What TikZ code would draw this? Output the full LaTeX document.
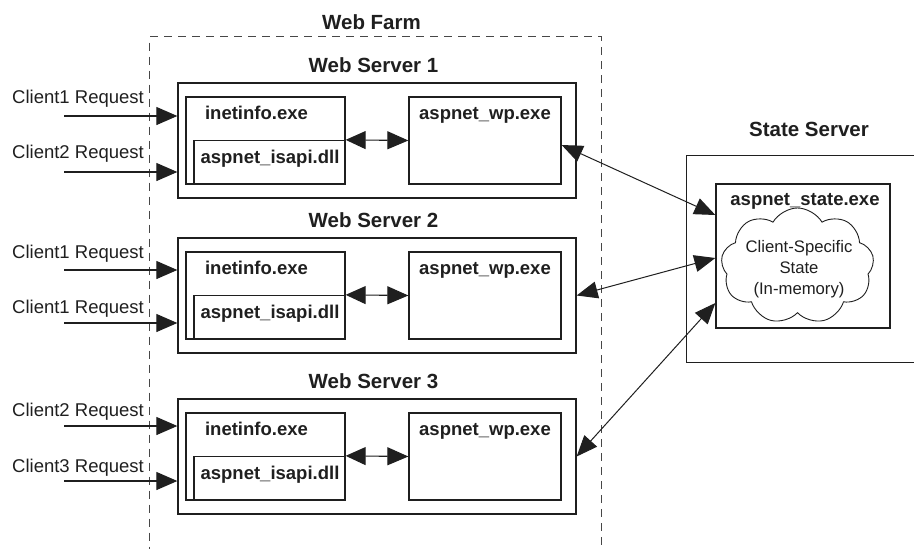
\documentclass[tikz,border=0pt]{standalone}
\usepackage{fontspec}
\setmainfont{Liberation Sans}
\usetikzlibrary{shapes.symbols,arrows.meta}
\begin{document}
\begin{tikzpicture}[x=1pt,y=-1pt,
  box/.style={draw=black!88, line width=1.3pt, rectangle, inner sep=0pt},
  title/.style={font=\bfseries\fontsize{20.5}{24}\selectfont, anchor=base, inner sep=0pt, text=black!88},
  lbl/.style={font=\bfseries\fontsize{18.5}{22}\selectfont, anchor=base, inner sep=0pt, text=black!88},
  req/.style={font=\fontsize{18.5}{22}\selectfont, anchor=base west, inner sep=0pt, text=black!88},
  arr/.style={draw=black!88, line width=1.1pt, -{Triangle[length=21pt,width=18pt]}},
  darr/.style={draw=black!88, line width=1.1pt, {Triangle[length=20pt,width=18pt]}-{Triangle[length=21pt,width=18pt]}},
  sarr/.style={draw=black!88, line width=1pt, {Triangle[length=21pt,width=17pt]}-{Triangle[length=21pt,width=17pt]}},
  farmstyle/.style={draw=black!72, line width=1.4pt, dash pattern=on 8pt off 6pt, rectangle, inner sep=0pt}
]
\useasboundingbox (0,0) rectangle (914,549);
\clip (0,0) rectangle (914,549);

% Web farm
\node[farmstyle, minimum width=452pt, minimum height=560pt, anchor=north west] (farm) at (149,36) {};
\node[title] (tfarm) at (371.5,29) {Web Farm};

\newcommand{\wsrv}[2]{%
  \node[box, minimum width=398pt, minimum height=115pt] (ws#1) at (377,{#2+57.5}) {};
  \node[box, minimum width=159pt, minimum height=87pt] (inet#1) at (265.5,{#2+57.5}) {};
  \node[box, minimum width=151pt, minimum height=43.5pt] (isapi#1) at (269.5,{#2+79.25}) {};
  \node[box, minimum width=152pt, minimum height=87pt] (wp#1) at (485,{#2+57.5}) {};
  \node[title] (tws#1) at (373.5,{#2-10.5}) {Web Server #1};
  \node[lbl] (tinet#1) at (256.5,{#2+36}) {inetinfo.exe};
  \node[lbl] (tisapi#1) at (270,{#2+80}) {aspnet\_isapi.dll};
  \node[lbl] (twp#1) at (485,{#2+36}) {aspnet\_wp.exe};
  \draw[darr] (isapi#1.north east) -- (wp#1.west);
}
\wsrv{1}{83}
\wsrv{2}{238}
\wsrv{3}{399}

% client requests
\coordinate (c1a) at (64,116);
\coordinate (c1b) at (64,172);
\coordinate (c2a) at (64,270);
\coordinate (c2b) at (64,323);
\coordinate (c3a) at (64,426);
\coordinate (c3b) at (64,481);
\draw[arr] (c1a) -- (ws1.west |- c1a);
\draw[arr] (c1b) -- (ws1.west |- c1b);
\draw[arr] (c2a) -- (ws2.west |- c2a);
\draw[arr] (c2b) -- (ws2.west |- c2b);
\draw[arr] (c3a) -- (ws3.west |- c3a);
\draw[arr] (c3b) -- (ws3.west |- c3b);
\node[req] (r1a) at (12,103) {Client1 Request};
\node[req] (r1b) at (12,158) {Client2 Request};
\node[req] (r2a) at (12,258) {Client1 Request};
\node[req] (r2b) at (12,313) {Client1 Request};
\node[req] (r3a) at (12,416) {Client2 Request};
\node[req] (r3b) at (12,472) {Client3 Request};

% state server
\node[box, minimum width=260pt, minimum height=207pt, anchor=north west] (ss) at (686,155) {};
\node[title] (tss) at (809,136) {State Server};
\node[box, minimum width=174pt, minimum height=144pt] (state) at (803,256) {};
\node[lbl] (tstate) at (805,205) {aspnet\_state.exe};
\node[cloud, draw=black!88, line width=0.9pt, cloud puffs=9, cloud puff arc=120, cloud ignores aspect,
      minimum width=153pt, minimum height=116pt, inner sep=0pt] (cloud) at (797.5,266) {};
\node[align=center, inner sep=0pt, text=black!88, font=\fontsize{16.7}{21}\selectfont] (tcloud) at (799,269)
      {Client-Specific\\State\\(In-memory)};

\draw[sarr] ([yshift=-4.5pt]wp1.east) -- ([yshift=41pt]state.west);
\draw[sarr] (ws2.east) -- ([yshift=-2pt]state.west);
\draw[sarr] (ws3.east) -- ([yshift=-47pt]state.west);
\end{tikzpicture}
\end{document}
